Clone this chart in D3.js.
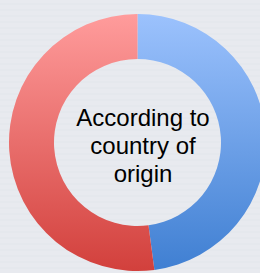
<!DOCTYPE html>
<html><head><meta charset="utf-8">
<script src="https://cdn.jsdelivr.net/npm/d3@7"></script>
<style>html,body{margin:0;padding:0;background:#e7e9ef;}svg{display:block;}</style>
</head><body>
<script>
const categories = ["Blue group", "Red group"];
const values = [47.9, 52.1];
const topColors = ["#9cc2fd", "#ff9c9c"];
const bottomColors = ["#3f7fd2", "#d2403c"];
const centerLines = ["According to", "country of", "origin"];

const W = 260, H = 273;
const svg = d3.select("body").append("svg").attr("width", W).attr("height", H);
const defs = svg.append("defs");

const pat = defs.append("pattern").attr("id","stripes").attr("patternUnits","userSpaceOnUse").attr("width",8).attr("height",6);
pat.append("rect").attr("width",8).attr("height",6).attr("fill","#e8eaef");
pat.append("rect").attr("y",3).attr("width",8).attr("height",2).attr("fill","#e5e8ed");
svg.append("rect").attr("width",W).attr("height",H).attr("fill","url(#stripes)");

const cx = 137.5, cy = 142.5, R = 128.5, r = 83.5;
categories.forEach((c,i)=>{
  const g = defs.append("linearGradient").attr("id","g"+i).attr("gradientUnits","userSpaceOnUse")
    .attr("x1",0).attr("y1",-R).attr("x2",0).attr("y2",R);
  g.append("stop").attr("offset",0).attr("stop-color",topColors[i]);
  g.append("stop").attr("offset",1).attr("stop-color",bottomColors[i]);
});

const pie = d3.pie().sort(null).value(d=>d);
const arc = d3.arc().innerRadius(r).outerRadius(R);
const gc = svg.append("g").attr("transform",`translate(${cx},${cy})`);
gc.selectAll("path").data(pie(values)).join("path")
  .attr("d",arc).attr("fill",(d,i)=>`url(#g${i})`);

const t = svg.append("text").attr("text-anchor","middle")
  .style("font-family","'Liberation Sans', Arial, sans-serif").style("font-size","24px").attr("fill","#000");
centerLines.forEach((s,i)=>{
  t.append("tspan").attr("x",143).attr("y",126 + i*28).text(s);
});
</script>
</body></html>
